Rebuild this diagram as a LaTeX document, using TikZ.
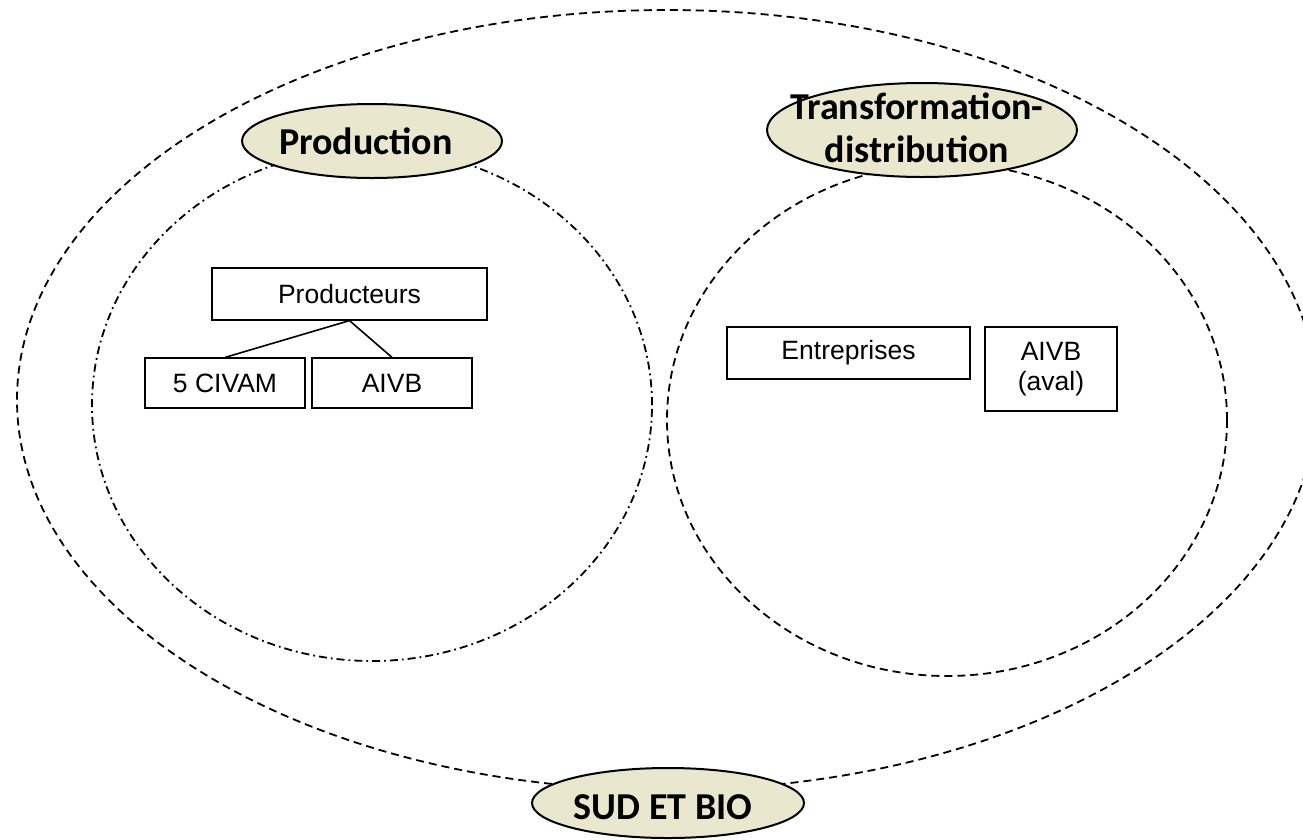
\documentclass[tikz,border=0pt]{standalone}
\usepackage{fontspec}
\setmainfont{Liberation Sans}
\newfontfamily\lblfont{Carlito}
\usetikzlibrary{shapes.geometric}
\definecolor{lblfill}{RGB}{233,231,206}
\tikzset{
  outerdash/.style={line width=1.8pt, dash pattern=on 8pt off 5pt},
  innerdash/.style={line width=1.8pt, dash pattern=on 8pt off 5pt},
  dashdotline/.style={line width=1.8pt, dash pattern=on 8pt off 4pt on 1.8pt off 4pt},
  lblell/.style={draw, ellipse, fill=lblfill, line width=2pt, inner sep=0pt},
  lbltext/.style={font=\lblfont\bfseries\fontsize{38}{43}\selectfont, align=center, inner sep=0pt},
  boxnode/.style={draw, rectangle, line width=1.2pt, inner sep=0pt, font=\fontsize{26.5}{30}\selectfont, align=center},
  conn/.style={line width=1.6pt}
}
\begin{document}
\begin{tikzpicture}[x=1pt,y=-1pt]
\clip (0,0) rectangle (1303,839);
\fill[white] (0,0) rectangle (1303,839);
% big containers
\draw[outerdash] (667,400) ellipse [x radius=650pt, y radius=390pt];
\draw[dashdotline] (372,405) ellipse [x radius=280pt, y radius=256pt];
\draw[innerdash] (947,420) ellipse [x radius=280pt, y radius=256pt];
% labels
\node[lblell, minimum width=260pt, minimum height=74pt] (prodell) at (372,141) {};
\node[lbltext] (prodtxt) at (366,141) {Production};
\node[lblell, minimum width=310pt, minimum height=94pt] (trell) at (922,130) {};
\node[lbltext] (trtxt) at (917,128) {Transformation-\\distribution};
\node[lblell, minimum width=272pt, minimum height=70pt] (sudell) at (668,803) {};
\node[lbltext] (sudtxt) at (663,807) {SUD ET BIO};
% boxes
\node[boxnode, minimum width=275pt, minimum height=52pt] (producteurs) at (349.5,294) {Producteurs};
\node[boxnode, minimum width=160pt, minimum height=50pt] (civam) at (225,383) {5 CIVAM};
\node[boxnode, minimum width=160pt, minimum height=50pt] (aivb) at (392,383) {AIVB};
\node[boxnode, minimum width=243pt, minimum height=52pt] (entreprises) at (848.5,353) {Entreprises};
\node[boxnode, minimum width=132pt, minimum height=84pt] (aivbaval) at (1051,369) {AIVB\\(aval)};
% connectors
\draw[conn] (producteurs.south) -- (civam.north);
\draw[conn] (producteurs.south) -- (aivb.north);
\end{tikzpicture}
\end{document}
